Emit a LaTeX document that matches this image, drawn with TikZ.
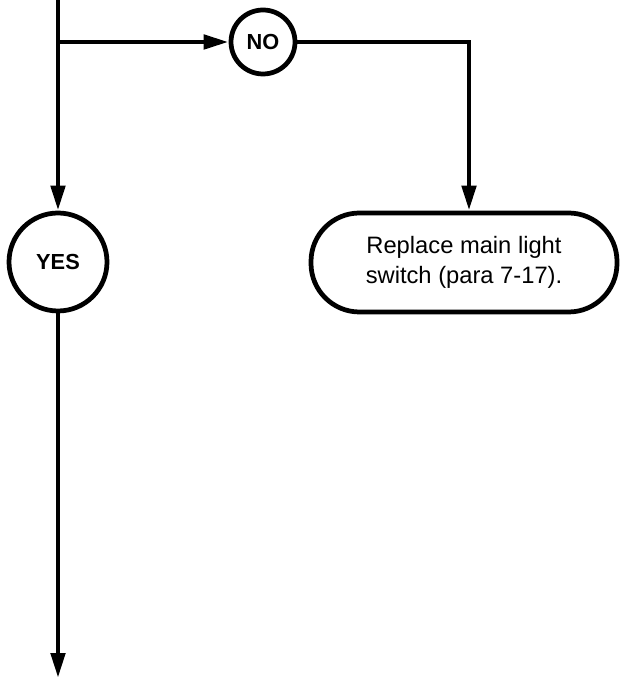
\documentclass[tikz,border=0pt]{standalone}
\usepackage{fontspec}
\setmainfont{Liberation Sans}
\usetikzlibrary{arrows.meta}
\begin{document}
\begin{tikzpicture}[
  line width=2.7pt,
  answer/.style={circle, draw, line width=2.7pt, inner sep=0pt, font=\bfseries\fontsize{12.4}{14}\selectfont},
  action/.style={rectangle, rounded corners=0.97cm, draw, line width=2.7pt, minimum width=6.12cm, minimum height=1.98cm,
                 align=center, font=\fontsize{13.5}{17}\selectfont},
  arr/.style={-{Triangle[length=5mm, width=2.8mm]}}
]
\useasboundingbox (0,0) rectangle (12.42,-13.58);
\coordinate (top) at (1.16,0);
\coordinate (split) at (1.16,-0.84);
\node[answer, minimum size=1.28cm] (no) at (5.26,-0.84) {NO};
\coordinate (turn) at (9.38,-0.84);
\node[action] (replace) at (9.28,-5.25) {Replace main light\\switch (para 7-17).};
\node[answer, minimum size=1.96cm] (yes) at (1.16,-5.24) {YES};
\coordinate (bottom) at (1.16,-13.56);
\draw[arr] (top) -- (yes);
\draw[arr] (split) -- (no);
\draw[arr] (no) -- (turn) -- (turn |- replace.north);
\draw[arr] (yes) -- (bottom);
\end{tikzpicture}
\end{document}
